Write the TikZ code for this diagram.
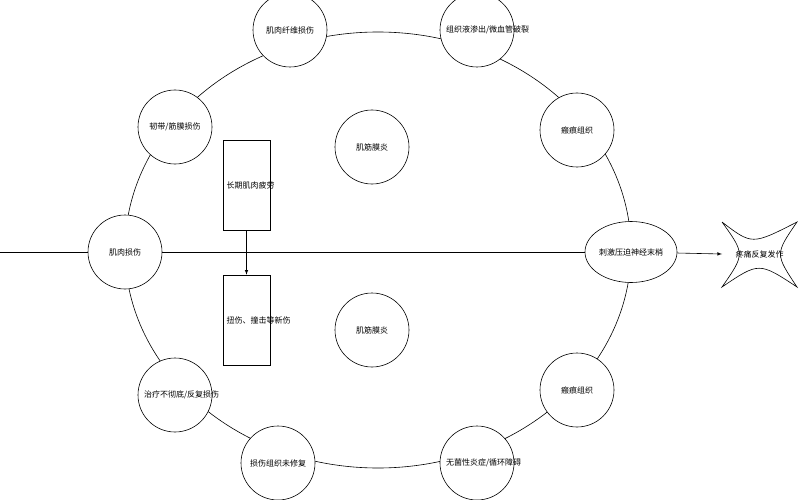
\documentclass[tikz,border=0pt]{standalone}
\usepackage{fontspec}
\newfontfamily\cjk{Noto Sans CJK SC}
\usetikzlibrary{shapes.geometric}
\tikzset{
  cause/.style={draw,circle,minimum size=74pt,inner sep=1pt,align=center,text width=62pt,font=\cjk\fontsize{8}{10}\selectfont},
  inner/.style={font=\cjk\fontsize{8}{10}\selectfont},
  box/.style={draw,minimum width=47pt,minimum height=90pt,align=center,text width=40pt,font=\cjk\fontsize{8}{10}\selectfont}
}
\begin{document}
\begin{tikzpicture}[x=1pt,y=-1pt,line width=0.6pt]
\useasboundingbox (0,0) rectangle (800,500);
\draw (378,250) ellipse [x radius=253,y radius=218];
\node[cause,fill=white] (fiber) at (290,30) {肌肉纤维损伤};
\node[cause,fill=white] (fluid) at (477,30) {组织液渗出/微血管破裂};
\node[cause,fill=white] (scar1) at (577,130) {瘢痕组织};
\node[cause,fill=white] (scar2) at (577,390) {瘢痕组织};
\node[cause,fill=white] (aseptic) at (477,463) {无菌性炎症/循环障碍};
\node[cause,fill=white] (unrep) at (278,463) {损伤组织未修复};
\node[cause,fill=white] (retreat) at (175,395) {治疗不彻底/反复损伤};
\node[cause,fill=white] (muscle) at (125,252) {肌肉损伤};
\node[cause,fill=white] (lig) at (175,127) {韧带/筋膜损伤};
\node[draw,ellipse,fill=white,minimum width=92pt,minimum height=61pt,inner sep=0pt,font=\cjk\fontsize{8}{10}\selectfont] (nerve) at (631,252) {刺激压迫神经末梢};
\node[cause] (fas1) at (372,147) {肌筋膜炎};
\node[cause] (fas2) at (372,330) {肌筋膜炎};
\node[box] (fatigue) at (246.5,185) {长期肌肉疲劳};
\node[box] (injury) at (246.5,320) {扭伤、撞击等新伤};
% star
\draw (722,222) .. controls (752,245) .. (797,222)
  .. controls (775,254) .. (797,287)
  .. controls (759,262) .. (722,287)
  .. controls (745,254) .. (722,222);
\node[inner] (pain) at (759.5,254) {疼痛反复发作};
\coordinate (start) at (0,252);
\coordinate (painin) at (722,254);
\draw (start) -- (muscle);
\draw (muscle) -- (nerve);
\draw[-latex] (nerve) -- (painin);
\draw[-latex] (fatigue) -- (injury);
\end{tikzpicture}
\end{document}
